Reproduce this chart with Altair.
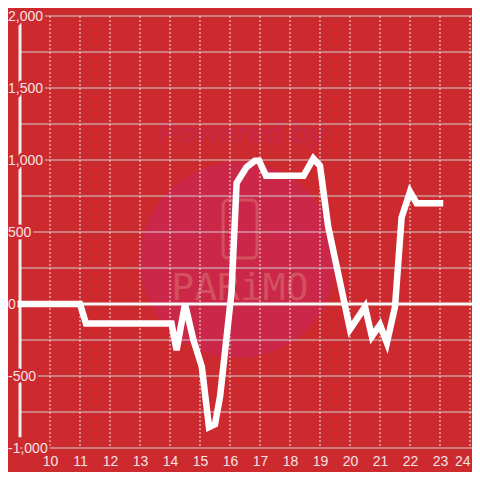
import altair as alt
import pandas as pd

# ---- data ----
hours = [9, 11, 11.2, 14.05, 14.22, 14.5, 14.78, 15.06, 15.3, 15.5, 15.67, 16.05, 16.22,
         16.55, 16.83, 16.97, 17.2, 18.45, 18.78, 19.0, 19.27, 20.0, 20.5, 20.73, 21.0,
         21.23, 21.5, 21.72, 22.0, 22.22, 23.0]
values = [0, 0, -135, -135, -320, 0, -250, -435, -855, -835, -640, 80, 840,
          950, 995, 995, 890, 890, 1010, 960, 540, -175, -20, -225, -145,
          -270, -20, 600, 780, 700, 700]

x_ticks = list(range(10, 25))
y_grid = list(range(-1000, 2001, 250))
y_label_values = [2000, 1500, 1000, 500, 0, -500, -1000]
y_label_texts = ["2,000", "1,500", "1,000", "500", "0", "-500", "-1,000"]

# decorative axis bar extent and watermark anchors (data units)
bar_x = [9]
bar_top = [1950]
bar_bottom = [-925]
wm_circle = {"x": [16.27], "y": [305]}
wm_powered = {"x": [16.4], "y": [1180], "t": ["Powered by"]}
wm_phone = {"x": [15.77], "x2": [16.9], "y": [722], "y2": [319]}
wm_brand = {"x": [16.33], "y": [104], "t": ["PARiMO"]}

BG = "#cc2a2e"
LABEL = "#f3e3e3"
FONT = "Liberation Sans"

xs = alt.Scale(domain=[9, 24.0667], nice=False, zero=False)
ys = alt.Scale(domain=[-1000, 2000], nice=False, zero=False)
x_axis = alt.Axis(values=x_ticks, grid=False, domain=False, ticks=False,
                  tickSize=0, labelPadding=6, labelFontSize=14,
                  labelColor=LABEL, labelFont=FONT, labelFlush=10,
                  labelOverlap=False, format="d")

def X(f):
    return alt.X(f, type="quantitative", scale=xs, axis=x_axis, title=None)

def Y(f):
    return alt.Y(f, type="quantitative", scale=ys, axis=None, title=None)

circle = alt.Chart(pd.DataFrame(wm_circle)).mark_point(
    shape="circle", size=38400, filled=True, color="#ca2749", opacity=1
).encode(x=X("x"), y=Y("y"))

powered = alt.Chart(pd.DataFrame(wm_powered)).mark_text(
    font=FONT, fontSize=30, fontStyle="italic", fontWeight="bold",
    color="#c82843", align="center", baseline="middle"
).encode(x=X("x"), y=Y("y"), text="t:N")

phone = alt.Chart(pd.DataFrame(wm_phone)).mark_rect(
    filled=False, stroke="#d4505e", strokeWidth=3, cornerRadius=5, fill=None
).encode(x=X("x"), x2="x2", y=Y("y"), y2="y2")

brand = alt.Chart(pd.DataFrame(wm_brand)).mark_text(
    font="DejaVu Sans Mono", fontSize=38, color="#d4505e",
    align="center", baseline="middle"
).encode(x=X("x"), y=Y("y"), text="t:N")

hgrid = alt.Chart(pd.DataFrame({"y": y_grid})).mark_rule(
    color="#d2d2d2", strokeWidth=1
).encode(y=Y("y"))

vgrid = alt.Chart(pd.DataFrame({"x": x_ticks})).mark_rule(
    color="#e6e6e6", strokeWidth=1, strokeDash=[2, 2]
).encode(x=X("x"))

zero = alt.Chart(pd.DataFrame({"y": [0]})).mark_rule(
    color="#f5f5f5", strokeWidth=3
).encode(y=Y("y"))

bar = alt.Chart(pd.DataFrame({"x": bar_x, "y": bar_top, "y2": bar_bottom})).mark_rule(
    color="#f0f0f0", strokeWidth=3
).encode(x=X("x"), y=Y("y"), y2="y2")

line = alt.Chart(pd.DataFrame({"h": hours, "v": values})).mark_line(
    color="#ffffff", strokeWidth=6.5, strokeCap="square", strokeJoin="miter"
).encode(x=X("h"), y=Y("v"))

lab_df = pd.DataFrame({"v": y_label_values, "t": y_label_texts})
mask = alt.Chart(lab_df).mark_text(
    font=FONT, fontSize=14, align="left", baseline="middle", dy=1,
    color=BG, stroke=BG, strokeWidth=5, strokeJoin="round"
).encode(x=alt.value(-12), y=Y("v"), text="t:N")

labels = alt.Chart(lab_df).mark_text(
    font=FONT, fontSize=14, align="left", baseline="middle", dy=1, color=LABEL
).encode(x=alt.value(-12), y=Y("v"), text="t:N")

chart = alt.layer(
    circle, powered, phone, brand, hgrid, vgrid, zero, bar, line, mask, labels
).properties(
    width=452, height=432, background=BG,
    padding={"left": 12, "top": 8, "right": 0, "bottom": 24},
    autosize=alt.AutoSizeParams(type="none"),
).configure_view(stroke=None)

chart.save("out.html", embed_options={"renderer": "svg", "actions": False})
